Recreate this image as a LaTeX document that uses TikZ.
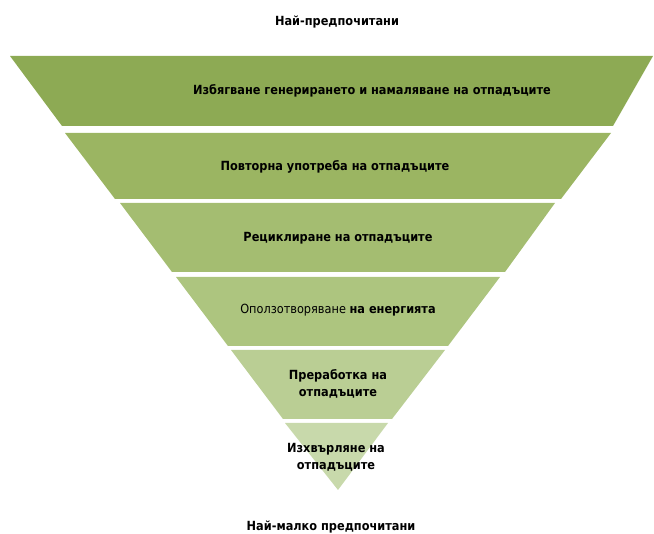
\documentclass[tikz,border=0pt]{standalone}
\usepackage{fontspec}
\setmainfont{DejaVu Sans Condensed}
\begin{document}
\begin{tikzpicture}
      [ x = 1pt, y = -1pt
      , band/.style =
        { draw = none }
      , label/.style =
        { font = \fontsize{12.6}{17}\selectfont\bfseries, align = center, inner sep = 0pt }
      ]
      \definecolor{bandA}{RGB}{141,170,84}
      \definecolor{bandB}{RGB}{155,181,98}
      \definecolor{bandC}{RGB}{164,189,113}
      \definecolor{bandD}{RGB}{173,197,127}
      \definecolor{bandE}{RGB}{186,206,148}
      \definecolor{bandF}{RGB}{200,217,171}
      \useasboundingbox (0,0) rectangle (654,534);
      % bands of the pyramid
      \fill [band, bandA] (10,56) -- (653,56) -- (613,126) -- (62,126) -- cycle;
      \fill [band, bandB] (65,133) -- (611,133) -- (561,199) -- (115,199) -- cycle;
      \fill [band, bandC] (120,203) -- (555,203) -- (505,272) -- (172,272) -- cycle;
      \fill [band, bandD] (176,277) -- (500,277) -- (448,346) -- (228,346) -- cycle;
      \fill [band, bandE] (231,350) -- (445,350) -- (392,419) -- (283,419) -- cycle;
      \fill [band, bandF] (285,423) -- (388,423) -- (338,490) -- cycle;
      % labels
      \node [label] (most) at (337,22) {Най-предпочитани};
      \node [label] (avoid) at (372,91) {Избягване генерирането и намаляване на отпадъците};
      \node [label] (reuse) at (335,167) {Повторна употреба на отпадъците};
      \node [label] (recycle) at (338,238) {Рециклиране на отпадъците};
      \node [label] (energy) at (338,310) {\mdseries Оползотворяване \bfseries на енергията};
      \node [label] (treat) at (338,384) {Преработка на\\отпадъците};
      \node [label] (dispose) at (336,457) {Изхвърляне на\\отпадъците};
      \node [label] (least) at (331,527) {Най-малко предпочитани};
    \end{tikzpicture}
\end{document}
